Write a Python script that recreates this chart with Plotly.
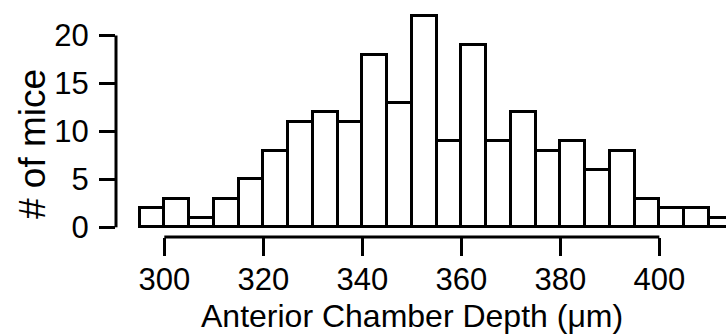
import plotly.graph_objects as go

# Data: histogram bins (left edges, µm) and counts
bin_starts = [295, 300, 305, 310, 315, 320, 325, 330, 335, 340, 345, 350,
              355, 360, 365, 370, 375, 380, 385, 390, 395, 400, 405, 410]
counts = [2, 3, 1, 3, 5, 8, 11, 12, 11, 18, 13, 22,
          9, 19, 9, 12, 8, 9, 6, 8, 3, 2, 2, 1]
bin_width = 5
x_tickvals = [300, 320, 340, 360, 380, 400]
y_tickvals = [0, 5, 10, 15, 20]

FONT = "Liberation Sans, Arial, sans-serif"

W, H = 726, 335
ML, MR, MT, MB = 116, 0, 5, 98

x_range = [290.24, 413.47]
y_range = [-1.01, 23.18]


def px(v):
    return (v - x_range[0]) / (x_range[1] - x_range[0])


def py(v):
    return (v - y_range[0]) / (y_range[1] - y_range[0])


fig = go.Figure()
fig.add_trace(go.Bar(
    x=bin_starts, y=counts, width=bin_width, offset=0,
    marker=dict(color="white", line=dict(color="black", width=3)),
    showlegend=False, hoverinfo="x+y",
))

shapes = [
    # x axis line spanning the tick range
    dict(type="line", xref="paper", yref="paper",
         x0=px(x_tickvals[0]), x1=px(x_tickvals[-1]), y0=0, y1=0,
         line=dict(color="black", width=3)),
    # y axis line spanning the tick range
    dict(type="line", xref="paper", yref="paper",
         x0=0, x1=0, y0=py(y_tickvals[0]), y1=py(y_tickvals[-1]),
         line=dict(color="black", width=3)),
]

plot_h = H - MT - MB
plot_w = W - ML - MR
bottom_px = H - MB

annotations = [
    dict(text="Anterior Chamber Depth (μm)", xref="paper", yref="paper",
         x=(px(x_tickvals[0]) + px(x_tickvals[-1])) / 2,
         y=(bottom_px - 316) / plot_h, xanchor="center", yanchor="middle",
         showarrow=False, font=dict(family=FONT, size=32, color="black")),
    dict(text="# of mice", xref="paper", yref="paper",
         x=(32 - ML) / plot_w, y=(bottom_px - 144) / plot_h,
         xanchor="center", yanchor="middle", textangle=-90,
         showarrow=False, font=dict(family=FONT, size=37, color="black")),
]

fig.update_layout(
    width=W, height=H,
    margin=dict(l=ML, r=MR, t=MT, b=MB, pad=0),
    paper_bgcolor="white", plot_bgcolor="white",
    bargap=0,
    shapes=shapes, annotations=annotations,
    font=dict(family=FONT, size=31, color="black"),
    xaxis=dict(range=x_range, tickvals=x_tickvals, ticks="outside",
               ticklen=18, tickwidth=3, tickcolor="black",
               ticklabelstandoff=-3,
               showgrid=False, zeroline=False, showline=False,
               tickfont=dict(family=FONT, size=31, color="black")),
    yaxis=dict(range=y_range, tickvals=y_tickvals, ticks="outside",
               ticklen=16, tickwidth=3, tickcolor="black",
               ticklabelstandoff=4,
               showgrid=False, zeroline=False, showline=False,
               tickfont=dict(family=FONT, size=31, color="black")),
)

fig.write_html(
    "out.html",
    config={"displayModeBar": False},
    post_script="document.body.style.margin='0';document.body.style.overflow='hidden';",
)
